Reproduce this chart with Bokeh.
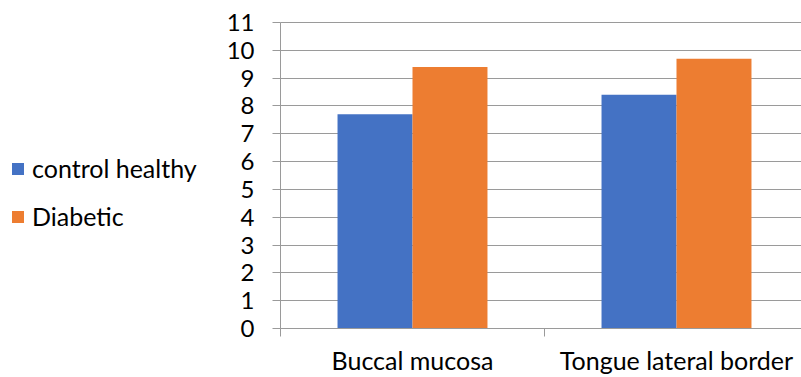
from bokeh.plotting import figure
from bokeh.models import Range1d, FixedTicker, Legend, ColumnDataSource
from bokeh.transform import dodge
from bokeh.embed import file_html
from bokeh.resources import INLINE

categories = ["Buccal mucosa", "Tongue lateral border"]
control_healthy = [7.7, 8.4]
diabetic = [9.4, 9.7]
y_ticks = list(range(0, 12))

FONT = "Lato"
GRID = "#9a9a9a"
BLUE = "#4472C4"
ORANGE = "#ED7D31"

W, H = 801, 377
PX = 264.0          # pixels per category
PY = 306.0 / 11     # pixels per y unit
X0, Y0 = 280, 328   # pixel position of data origin
x_start, x_end = -X0 / PX, (W - X0) / PX
y_start, y_end = -(H - Y0) / PY, Y0 / PY

pos = [i + 0.5 for i in range(len(categories))]
src = ColumnDataSource(dict(x=pos, control=control_healthy, diabetic=diabetic))

p = figure(width=W, height=H, output_backend="svg", toolbar_location=None,
           x_range=Range1d(x_start, x_end), y_range=Range1d(y_start, y_end),
           min_border_left=0, min_border_right=0, min_border_top=0, min_border_bottom=0,
           outline_line_color=None, background_fill_color="white", border_fill_color="white")

bw = 0.284
r1 = p.vbar(x=dodge("x", -bw / 2, range=p.x_range), top="control", width=bw, source=src,
            fill_color=BLUE, line_color=None)
r2 = p.vbar(x=dodge("x", bw / 2, range=p.x_range), top="diabetic", width=bw, source=src,
            fill_color=ORANGE, line_color=None)

# axes
p.xaxis.fixed_location = 0
p.xaxis.ticker = FixedTicker(ticks=pos, minor_ticks=[0, 1, 2])
p.xaxis.major_label_overrides = {v: c for v, c in zip(pos, categories)}
p.xaxis.bounds = (0, x_end)
p.xaxis.major_tick_out = 0
p.xaxis.major_tick_in = 0
p.xaxis.minor_tick_out = 8
p.xaxis.minor_tick_in = 0
p.xaxis.minor_tick_line_color = GRID
p.xaxis.major_label_standoff = 8
p.xaxis.major_label_text_font_size = "25px"

p.yaxis.fixed_location = 0
p.yaxis.ticker = FixedTicker(ticks=y_ticks)
p.yaxis.bounds = (0, 11)
p.yaxis.major_tick_out = 8
p.yaxis.major_tick_in = 0
p.yaxis.minor_tick_line_color = None
p.yaxis.major_label_standoff = 18
p.yaxis.major_label_text_font_size = "24px"

for ax in (p.xaxis, p.yaxis):
    ax.axis_line_color = GRID
    ax.major_tick_line_color = GRID
    ax.major_label_text_font = FONT
    ax.major_label_text_color = "#000000"

p.xgrid.grid_line_color = None
p.ygrid.grid_line_color = GRID
p.ygrid.ticker = FixedTicker(ticks=y_ticks)
p.ygrid.cross_bounds = (0, x_end)

legend = Legend(items=[("control healthy", [r1]), ("Diabetic", [r2])],
                location=(10, 146), orientation="vertical",
                border_line_color=None, background_fill_alpha=0,
                label_text_font=FONT, label_text_font_size="25px", label_text_color="#000000",
                glyph_width=15, glyph_height=15, label_standoff=7,
                padding=12, margin=0, spacing=18, label_height=26)
p.add_layout(legend, "center")

open("out.html", "w").write(file_html(p, INLINE))
